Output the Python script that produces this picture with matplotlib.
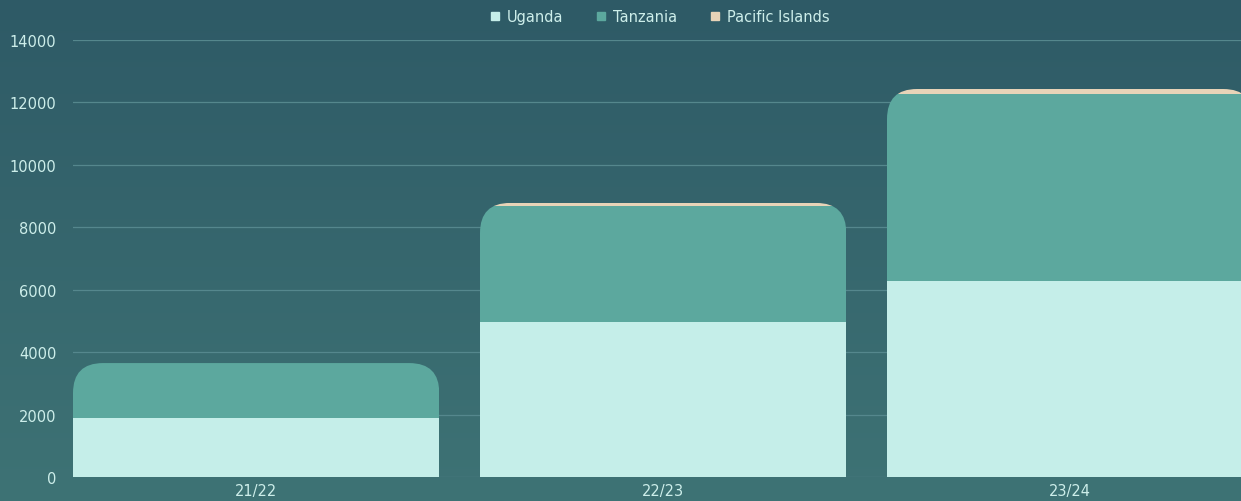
import numpy as np
import matplotlib
matplotlib.use("Agg")
import matplotlib.pyplot as plt
from matplotlib.patches import FancyBboxPatch
from matplotlib.transforms import IdentityTransform
from matplotlib.lines import Line2D

# ----------------- DATOS -----------------
temporadas = ["21/22", "22/23", "23/24"]
uganda     = [1900, 4970, 6280]
tanzania   = [1750, 3710, 5990]
pacific    = [0, 100, 160]
series     = ["Uganda", "Tanzania", "Pacific Islands"]
yticks     = [0, 2000, 4000, 6000, 8000, 10000, 12000, 14000]
# -----------------------------------------

plt.rcParams["font.family"] = ["DejaVu Sans"]

COL_UG  = "#c5eee9"
COL_TZ  = "#5ca89e"
COL_PI  = "#e8d4b8"
COL_TXT = "#cdeeea"
COL_GRD = "#55878d"
ANCHO   = 0.9
RADIO   = 30  # px

W, H = 1241, 502
fig = plt.figure(figsize=(W / 100, H / 100), dpi=100)

# fondo con degradado
bg = fig.add_axes([0, 0, 1, 1], zorder=-1)
top = np.array([0x2e, 0x5a, 0x66]) / 255
bot = np.array([0x3e, 0x73, 0x75]) / 255
t = np.linspace(0, 1, 256)[:, None]
grad = top[None, :] * (1 - t) + bot[None, :] * t
bg.imshow(grad[:, None, :], aspect="auto", extent=[0, 1, 0, 1])
bg.set_axis_off()

ax = fig.add_axes([73 / W, 24 / H, (W - 73) / W, 437 / H])
ax.set_facecolor("none")
x = np.arange(len(temporadas))
ax.set_xlim(-0.45, -0.45 + (W - 73) / 407)
ax.set_ylim(0, 14000)
ax.set_yticks(yticks)
ax.set_xticks(x, temporadas)
ax.tick_params(length=0, colors=COL_TXT, labelsize=10.5)
ax.tick_params(axis="y", pad=12)
ax.tick_params(axis="x", pad=4)
for s in ax.spines.values():
    s.set_visible(False)
ax.grid(axis="y", color=COL_GRD, lw=0.9)
ax.set_axisbelow(True)

b1 = ax.bar(x, uganda, ANCHO, color=COL_UG, lw=0)
base2 = np.array(uganda)
b2 = ax.bar(x, tanzania, ANCHO, bottom=base2, color=COL_TZ, lw=0)
base3 = base2 + np.array(tanzania)
b3 = ax.bar(x, pacific, ANCHO, bottom=base3, color=COL_PI, lw=0)
totales = base3 + np.array(pacific)

# esquinas superiores redondeadas
for i in range(len(temporadas)):
    (px0, py0) = ax.transData.transform((x[i] - ANCHO / 2, 0))
    (px1, py1) = ax.transData.transform((x[i] + ANCHO / 2, totales[i]))
    clip = FancyBboxPatch((px0, py0 - RADIO), px1 - px0, py1 - py0 + RADIO,
                          boxstyle=f"round,pad=0,rounding_size={RADIO}",
                          transform=IdentityTransform())
    for cont in (b1, b2, b3):
        cont[i].set_clip_path(clip)

handles = [Line2D([], [], marker="s", ls="", ms=6, color=c)
           for c in (COL_UG, COL_TZ, COL_PI)]
leg = fig.legend(handles, series, loc="upper center",
                 bbox_to_anchor=(660 / W, 1.0), ncol=3, frameon=False,
                 fontsize=10.5, handlelength=0.6, handletextpad=0.5,
                 columnspacing=2.3, borderaxespad=0.3)
for txt in leg.get_texts():
    txt.set_color(COL_TXT)

fig.savefig("out.png", dpi=100)
